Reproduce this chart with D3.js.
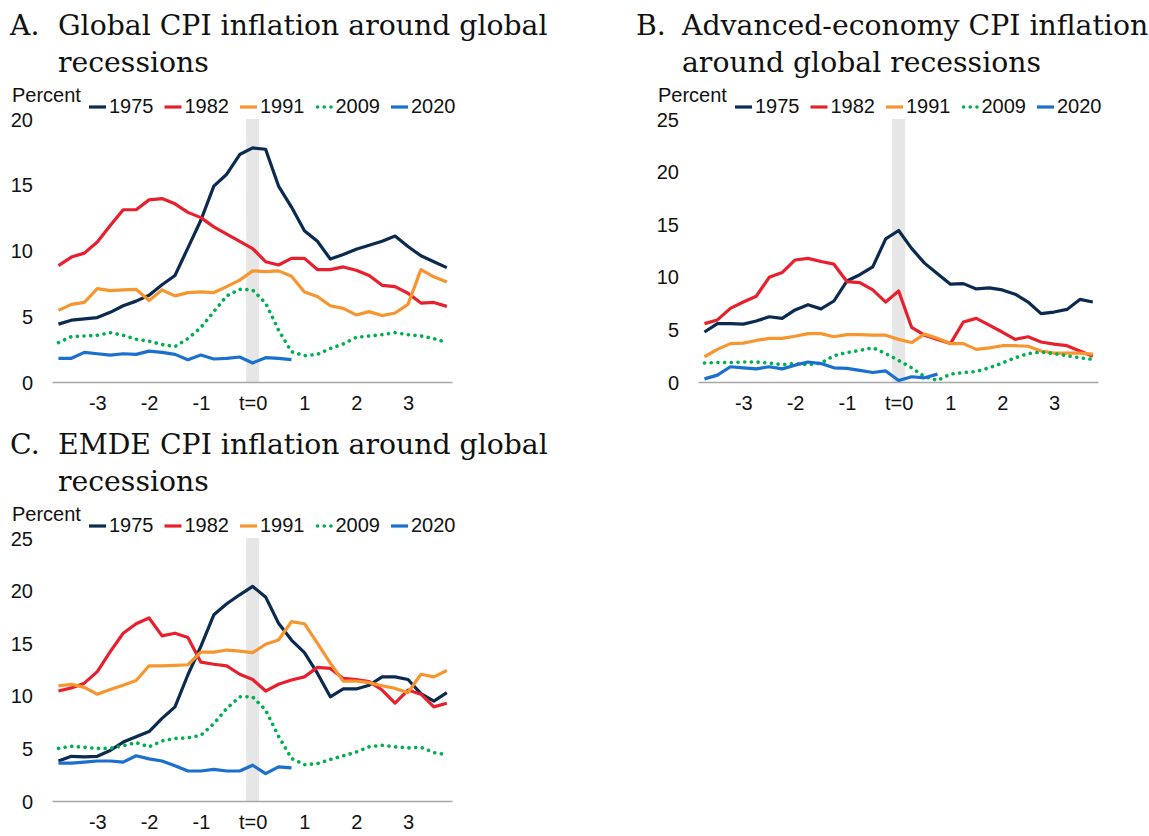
<!DOCTYPE html>
<html>
<head>
<meta charset="utf-8" />
<title>CPI inflation around global recessions</title>
<script src="https://d3js.org/d3.v7.min.js"></script>
<style>
  body { margin: 0; background: #fff; }
  svg { display: block; }
  .title { font-family: "DejaVu Serif", serif; font-size: 28.3px; fill: #111; }
  .lbl { font-family: "Liberation Sans", Arial, sans-serif; font-size: 20px; fill: #111; }
</style>
</head>
<body>
<svg width="1149" height="836"></svg>
<script>
// quarters relative to the global recession (t=0)
var quarters = [-15,-14,-13,-12,-11,-10,-9,-8,-7,-6,-5,-4,-3,-2,-1,0,1,2,3,4,5,6,7,8,9,10,11,12,13,14,15];
var xTickVals = [-12, -8, -4, 0, 4, 8, 12];
var xTickLabels = ["-3", "-2", "-1", "t=0", "1", "2", "3"];
var seriesNames = ["1975", "1982", "1991", "2009", "2020"];
var seriesColors = ["#0b2a50", "#e8202e", "#f7962e", "#00b050", "#1a6fcf"];

// A. Global
var glob1975 = [4.4,4.7,4.8,4.9,5.3,5.8,6.15,6.6,7.4,8.1,10.2,12.3,14.9,15.8,17.3,17.8,17.7,14.9,13.3,11.5,10.7,9.35,9.7,10.1,10.4,10.7,11.1,10.3,9.6,9.15,8.7];
var glob1982 = [8.85,9.5,9.8,10.65,11.9,13.1,13.1,13.85,13.95,13.55,12.9,12.5,11.8,11.25,10.7,10.15,9.15,8.9,9.4,9.4,8.55,8.55,8.75,8.5,8.1,7.35,7.25,6.75,6.0,6.05,5.75];
var glob1991 = [5.45,5.9,6.05,7.1,6.95,7.0,7.05,6.2,7.0,6.55,6.8,6.85,6.8,7.25,7.75,8.45,8.4,8.45,8.05,6.85,6.5,5.8,5.6,5.1,5.35,5.05,5.25,5.9,8.55,8.0,7.6];
var glob2009 = [3.0,3.45,3.5,3.55,3.75,3.55,3.25,3.1,2.85,2.7,3.3,4.15,5.35,6.55,7.05,7.0,6.0,3.95,2.3,2.0,2.1,2.55,2.9,3.4,3.5,3.6,3.75,3.6,3.5,3.3,3.0];
var glob2020 = [1.8,1.8,2.25,2.15,2.05,2.15,2.1,2.35,2.25,2.1,1.7,2.05,1.75,1.8,1.9,1.45,1.85,1.8,1.7];

// B. Advanced economies
var adv1975 = [4.75,5.55,5.55,5.5,5.8,6.2,6.05,6.85,7.35,6.95,7.7,9.6,10.2,10.95,13.6,14.4,12.7,11.3,10.3,9.3,9.35,8.85,8.95,8.75,8.35,7.6,6.5,6.65,6.9,7.85,7.6];
var adv1982 = [5.55,5.9,7.0,7.6,8.15,9.95,10.4,11.6,11.75,11.45,11.2,9.55,9.45,8.75,7.6,8.65,5.2,4.45,4.05,3.65,5.7,6.05,5.4,4.75,4.05,4.3,3.8,3.6,3.45,2.95,2.45];
var adv1991 = [2.4,3.1,3.65,3.7,3.95,4.15,4.15,4.35,4.6,4.6,4.3,4.5,4.5,4.45,4.45,4.05,3.75,4.55,4.15,3.65,3.65,3.1,3.25,3.45,3.45,3.4,2.95,2.75,2.75,2.75,2.65];
var adv2009 = [1.8,1.85,1.85,1.9,1.9,1.8,1.65,1.75,1.65,1.8,2.5,2.8,3.0,3.25,2.7,2.05,1.35,0.5,0.15,0.75,0.9,1.0,1.35,1.8,2.3,2.7,2.85,2.7,2.5,2.3,2.15];
var adv2020 = [0.3,0.65,1.45,1.35,1.25,1.45,1.25,1.6,1.9,1.75,1.35,1.3,1.1,0.9,1.05,0.15,0.5,0.4,0.75];

// C. EMDEs
var emde1975 = [3.8,4.25,4.2,4.25,4.8,5.6,6.1,6.6,7.85,8.95,12.0,14.7,17.7,18.75,19.6,20.4,19.4,16.9,15.3,14.1,12.15,9.9,10.65,10.65,11.0,11.8,11.8,11.55,10.2,9.5,10.3];
var emde1982 = [10.45,10.75,11.2,12.3,14.2,15.95,16.85,17.4,15.7,15.95,15.55,13.2,13.0,12.85,12.05,11.55,10.45,11.1,11.5,11.8,12.7,12.6,11.65,11.55,11.35,10.55,9.3,10.55,10.15,8.95,9.3];
var emde1991 = [10.95,11.1,10.8,10.15,10.6,11.0,11.45,12.85,12.85,12.9,12.95,14.15,14.15,14.35,14.25,14.1,14.9,15.3,17.05,16.85,15.0,13.1,11.4,11.4,11.25,10.95,10.7,10.3,12.05,11.8,12.4];
var emde2009 = [5.0,5.2,5.1,5.0,5.0,5.25,5.55,5.15,5.7,5.95,6.0,6.25,7.35,8.8,9.9,9.9,8.65,6.15,4.05,3.45,3.55,3.95,4.3,4.65,5.15,5.3,5.15,5.05,5.1,4.6,4.4];
var emde2020 = [3.6,3.6,3.7,3.8,3.8,3.7,4.3,4.0,3.8,3.35,2.85,2.85,3.0,2.85,2.85,3.4,2.6,3.25,3.15];

var titleA = ["Global CPI inflation around global", "recessions"];
var titleB = ["Advanced-economy CPI inflation", "around global recessions"];
var titleC = ["EMDE CPI inflation around global", "recessions"];

var svg = d3.select("svg");

function drawPanel(opt) {
    var g = svg.append("g");

    // title
    g.append("text").attr("class", "title")
        .attr("x", opt.letterX).attr("y", opt.top - 84).text(opt.letter);
    opt.title.forEach(function (line, i) {
        g.append("text").attr("class", "title")
            .attr("x", opt.titleX).attr("y", opt.top - 84 + i * 37).text(line);
    });

    var x = d3.scaleLinear().domain([-15.5, 15.4]).range([opt.left, opt.left + 400]);
    var y = d3.scaleLinear().domain([0, opt.yMax]).range([opt.top + 263, opt.top]);

    // recession shading
    g.append("rect")
        .attr("x", x(-0.5)).attr("width", x(0.5) - x(-0.5))
        .attr("y", y(opt.yMax)).attr("height", y(0) - y(opt.yMax))
        .attr("fill", "#e6e6e6");

    // y axis (labels only)
    var yAxis = g.append("g")
        .attr("transform", "translate(" + (opt.left - 19) + ",0)")
        .call(d3.axisLeft(y).tickValues(d3.range(0, opt.yMax + 1, 5)).tickSize(0).tickPadding(0));
    yAxis.attr("font-size", null).attr("font-family", null);
    yAxis.select(".domain").remove();
    yAxis.selectAll("text").attr("class", "lbl").attr("fill", null)
        .attr("dy", null).attr("y", 7);

    // x axis
    var xAxis = g.append("g")
        .attr("transform", "translate(0," + y(0) + ")")
        .call(d3.axisBottom(x).tickValues(xTickVals)
            .tickFormat(function (d, i) { return xTickLabels[i]; })
            .tickSizeInner(0).tickSizeOuter(0).tickPadding(0));
    xAxis.attr("font-size", null).attr("font-family", null);
    xAxis.select(".domain").attr("stroke", "#a6a6a6").attr("stroke-width", 1.5);
    xAxis.selectAll("text").attr("class", "lbl").attr("fill", null)
        .attr("dy", null).attr("y", 28);

    // lines
    var line = d3.line()
        .x(function (d, i) { return x(quarters[i]); })
        .y(function (d) { return y(d); });

    opt.series.forEach(function (vals, s) {
        var p = g.append("path")
            .datum(vals)
            .attr("d", line)
            .attr("fill", "none")
            .attr("stroke", seriesColors[s])
            .attr("stroke-width", 3.2)
            .attr("stroke-linejoin", "round");
        if (seriesNames[s] === "2009") {
            p.attr("stroke-dasharray", "0.1 6.6").attr("stroke-linecap", "round").attr("stroke-width", 3.6);
        }
    });

    // legend
    g.append("text").attr("class", "lbl")
        .attr("x", opt.left - 40).attr("y", opt.top - 17).text("Percent");

    var leg = g.selectAll(".leg").data(seriesNames).enter().append("g")
        .attr("transform", function (d, i) {
            return "translate(" + (opt.left + 37 + i * 75.5) + "," + (opt.top - 6) + ")";
        });
    leg.append("line")
        .attr("x1", 0).attr("x2", 17).attr("y1", -6).attr("y2", -6)
        .attr("stroke", function (d, i) { return seriesColors[i]; })
        .attr("stroke-width", function (d) { return d === "2009" ? 3.6 : 3.2; })
        .attr("stroke-dasharray", function (d) { return d === "2009" ? "0.1 6.6" : null; })
        .attr("stroke-linecap", function (d) { return d === "2009" ? "round" : "butt"; })
        .attr("transform", function (d) { return d === "2009" ? "translate(2,0)" : null; });
    leg.append("text").attr("class", "lbl")
        .attr("x", 20).attr("y", 0).text(function (d) { return d; });
}

drawPanel({ letter: "A.", title: titleA, letterX: 10, titleX: 58, left: 52, top: 119, yMax: 20,
    series: [glob1975, glob1982, glob1991, glob2009, glob2020] });
drawPanel({ letter: "B.", title: titleB, letterX: 636, titleX: 682, left: 698, top: 119, yMax: 25,
    series: [adv1975, adv1982, adv1991, adv2009, adv2020] });
drawPanel({ letter: "C.", title: titleC, letterX: 10, titleX: 58, left: 52, top: 538, yMax: 25,
    series: [emde1975, emde1982, emde1991, emde2009, emde2020] });
</script>
</body>
</html>
